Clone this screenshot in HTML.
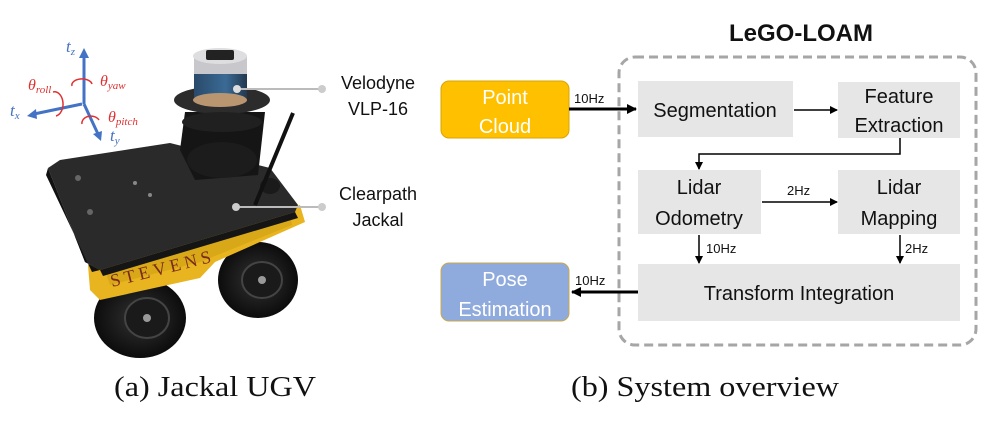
<!DOCTYPE html>
<html><head><meta charset="utf-8"><style>
html,body{margin:0;padding:0;background:#fff;}
svg{display:block;}
</style></head><body>
<svg width="1002" height="430" viewBox="0 0 1002 430" xmlns="http://www.w3.org/2000/svg">
<defs>
<marker id="ah" markerWidth="8" markerHeight="8" refX="7" refY="4" orient="auto" markerUnits="userSpaceOnUse"><path d="M0,0 L8,4 L0,8 z" fill="#000"/></marker>
<marker id="ahb" markerWidth="10" markerHeight="10" refX="9" refY="5" orient="auto" markerUnits="userSpaceOnUse"><path d="M0,0 L10,5 L0,10 z" fill="#000"/></marker>
<radialGradient id="wh" cx="0.5" cy="0.5" r="0.5"><stop offset="0" stop-color="#333"/><stop offset="1" stop-color="#0c0c0c"/></radialGradient>
<linearGradient id="blue" x1="0" x2="1"><stop offset="0" stop-color="#2a4a6a"/><stop offset="0.6" stop-color="#3a6a95"/><stop offset="1" stop-color="#22384f"/></linearGradient>
</defs>

<!-- Robot (left) -->
<ellipse cx="258" cy="280" rx="40" ry="38" fill="url(#wh)"/>
<ellipse cx="140" cy="318" rx="46" ry="40" fill="url(#wh)"/>
<ellipse cx="147" cy="318" rx="22" ry="20" fill="#1a1a1a" stroke="#444" stroke-width="2"/>
<circle cx="147" cy="318" r="4" fill="#999"/>
<ellipse cx="262" cy="280" rx="20" ry="18" fill="#1a1a1a" stroke="#444" stroke-width="2"/>
<circle cx="262" cy="280" r="4" fill="#999"/>
<polygon points="88,265 300,205 305,222 215,262 200,278 100,300 90,290" fill="#e8b420"/>
<polygon points="105,270 290,215 292,225 200,262 110,285" fill="#d9a818"/>
<text x="112" y="287" font-family="Liberation Serif,serif" font-size="18" fill="#7a2a1a" transform="rotate(-14 112 287)" letter-spacing="4">STEVENS</text>
<polygon points="48,168 60,160 170,143 270,168 298,205 295,212 100,270 85,262" fill="#2a2a2a"/>
<polygon points="48,168 85,262 100,270 92,272 46,175" fill="#111"/>
<polygon points="100,270 295,212 298,218 103,276" fill="#151515"/>
<circle cx="78" cy="178" r="3" fill="#666"/><circle cx="90" cy="212" r="3" fill="#666"/>
<circle cx="135" cy="183" r="2" fill="#888"/><circle cx="150" cy="195" r="2" fill="#888"/>
<ellipse cx="270" cy="186" rx="10" ry="8" fill="#1a1a1a"/>
<polygon points="185,112 265,112 258,175 195,180 180,150" fill="#151515"/>
<ellipse cx="222" cy="160" rx="35" ry="18" fill="#1c1c1c"/>
<line x1="255" y1="205" x2="293" y2="113" stroke="#111" stroke-width="4"/>
<ellipse cx="222" cy="100" rx="48" ry="14" fill="#2c2c2c"/>
<ellipse cx="222" cy="122" rx="40" ry="10" fill="#202020"/>
<rect x="194" y="62" width="53" height="38" fill="url(#blue)"/>
<ellipse cx="220" cy="100" rx="27" ry="7" fill="#b99570"/>
<rect x="194" y="56" width="53" height="18" fill="#c8c8cc"/>
<ellipse cx="220" cy="56" rx="27" ry="8" fill="#dedee0"/>
<rect x="206" y="50" width="28" height="10" rx="2" fill="#222"/>
<line x1="237" y1="89" x2="322" y2="89" stroke="#bbb" stroke-width="2"/>
<circle cx="237" cy="89" r="4" fill="#ddd"/><circle cx="322" cy="89" r="4" fill="#ccc"/>
<line x1="236" y1="207" x2="322" y2="207" stroke="#bbb" stroke-width="2"/>
<circle cx="236" cy="207" r="4" fill="#ccc"/><circle cx="322" cy="207" r="4" fill="#ccc"/>
<g font-family="Liberation Sans,sans-serif" font-size="18" fill="#111" text-anchor="middle">
<text x="378" y="89">Velodyne</text><text x="378" y="115">VLP-16</text>
<text x="378" y="200">Clearpath</text><text x="378" y="226">Jackal</text>
</g>
<g stroke="#4472c4" stroke-width="3" fill="none">
<line x1="84" y1="104" x2="84" y2="56"/>
<line x1="82" y1="104" x2="34" y2="114"/>
<line x1="84" y1="104" x2="98" y2="134"/>
</g>
<polygon points="84,48 79,58 89,58" fill="#4472c4"/>
<polygon points="27,116 36,109 37,119" fill="#4472c4"/>
<polygon points="101,141 93,134 102,131" fill="#4472c4"/>
<g stroke="#e03030" stroke-width="1.5" fill="none">
<path d="M72,86 A10,6 0 0 1 92,84"/>
<path d="M53,92 A7,10 0 0 1 56,116"/>
<path d="M82,124 A9,7 0 0 1 99,120"/>
</g>
<g font-family="Liberation Serif,serif" font-style="italic">
<text x="66" y="52" font-size="17" fill="#4472c4">t<tspan font-size="11" dy="3">z</tspan></text>
<text x="10" y="116" font-size="17" fill="#4472c4">t<tspan font-size="11" dy="3">x</tspan></text>
<text x="110" y="141" font-size="17" fill="#4472c4">t<tspan font-size="11" dy="3">y</tspan></text>
<text x="28" y="90" font-size="16" fill="#e03030">θ<tspan font-size="11" dy="3">roll</tspan></text>
<text x="100" y="86" font-size="16" fill="#e03030">θ<tspan font-size="11" dy="3">yaw</tspan></text>
<text x="108" y="122" font-size="16" fill="#e03030">θ<tspan font-size="11" dy="3">pitch</tspan></text>
</g>

<!-- Diagram (right) -->
<text x="801" y="41" font-family="Liberation Sans,sans-serif" font-weight="bold" font-size="24" text-anchor="middle" fill="#111">LeGO-LOAM</text>
<rect x="619" y="57" width="357" height="288" rx="16" fill="none" stroke="#a6a6a6" stroke-width="3" stroke-dasharray="9,5"/>
<rect x="441" y="81" width="128" height="57" rx="8" fill="#ffc000" stroke="#d9a400" stroke-width="1"/>
<rect x="441" y="263" width="128" height="58" rx="8" fill="#8faadc" stroke="#c8a850" stroke-width="1"/>
<g fill="#e7e6e6">
<rect x="638" y="81" width="155" height="56"/>
<rect x="838" y="82" width="122" height="56"/>
<rect x="638" y="170" width="123" height="64"/>
<rect x="838" y="170" width="122" height="64"/>
<rect x="638" y="264" width="322" height="57"/>
</g>
<g font-family="Liberation Sans,sans-serif" font-size="20" text-anchor="middle">
<text x="505" y="104" fill="#fff">Point</text><text x="505" y="133" fill="#fff">Cloud</text>
<text x="505" y="286" fill="#fff">Pose</text><text x="505" y="316" fill="#fff">Estimation</text>
<g fill="#111">
<text x="715" y="117">Segmentation</text>
<text x="899" y="103">Feature</text><text x="899" y="132">Extraction</text>
<text x="699" y="194">Lidar</text><text x="699" y="225">Odometry</text>
<text x="899" y="194">Lidar</text><text x="899" y="225">Mapping</text>
<text x="799" y="300">Transform Integration</text>
</g>
</g>
<line x1="569" y1="109" x2="636" y2="109" stroke="#000" stroke-width="3" marker-end="url(#ahb)"/>
<line x1="638" y1="292" x2="572" y2="292" stroke="#000" stroke-width="3" marker-end="url(#ahb)"/>
<line x1="794" y1="110" x2="837" y2="110" stroke="#000" stroke-width="1.5" marker-end="url(#ah)"/>
<polyline points="900,138 900,154 699,154 699,169" fill="none" stroke="#000" stroke-width="1.5" marker-end="url(#ah)"/>
<line x1="762" y1="202" x2="837" y2="202" stroke="#000" stroke-width="1.5" marker-end="url(#ah)"/>
<line x1="699" y1="235" x2="699" y2="263" stroke="#000" stroke-width="1.5" marker-end="url(#ah)"/>
<line x1="900" y1="235" x2="900" y2="263" stroke="#000" stroke-width="1.5" marker-end="url(#ah)"/>
<g font-family="Liberation Sans,sans-serif" font-size="13" fill="#111">
<text x="574" y="103">10Hz</text>
<text x="575" y="285">10Hz</text>
<text x="787" y="195">2Hz</text>
<text x="706" y="253">10Hz</text>
<text x="905" y="253">2Hz</text>
</g>

<g font-family="Liberation Serif,serif" font-size="29" fill="#111">
<text x="114" y="396" textLength="202" lengthAdjust="spacingAndGlyphs">(a) Jackal UGV</text>
<text x="571" y="396" textLength="268" lengthAdjust="spacingAndGlyphs">(b) System overview</text>
</g>
</svg>
</body></html>
